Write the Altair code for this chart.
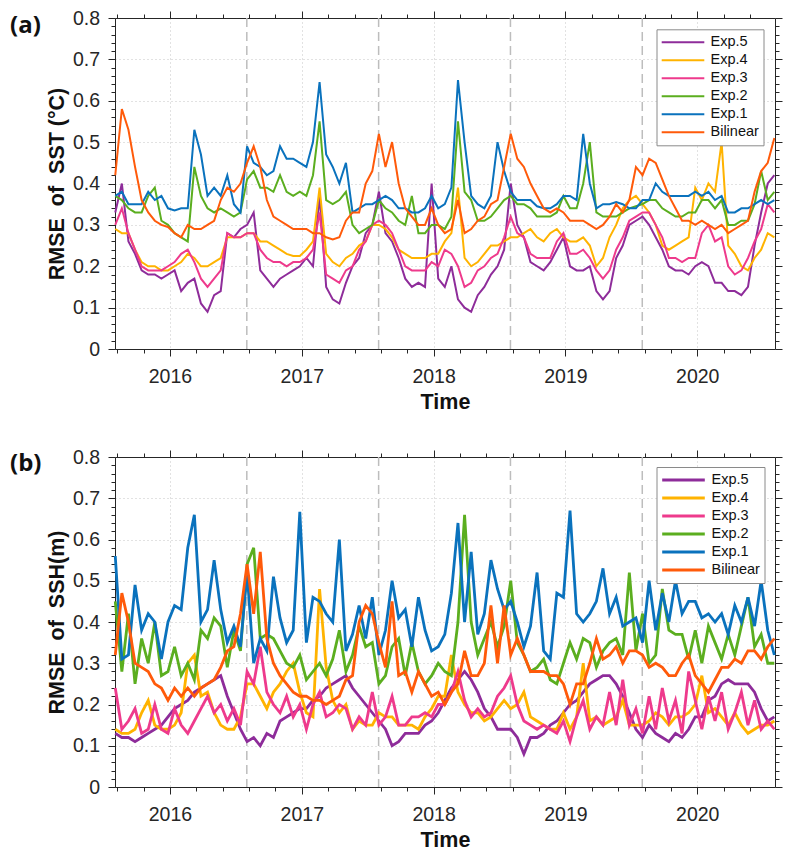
import altair as alt
import pandas as pd

# ---------------- data ----------------
N = 101
years = [round(2015.585 + 0.05 * i, 3) for i in range(N)]

series_names = ["Exp.5", "Exp.4", "Exp.3", "Exp.2", "Exp.1", "Bilinear"]
series_colors = ["#8E2C9A", "#FFB300", "#EE3A8C", "#5BAE1F", "#0A72BD", "#FF5A0A"]

# (a) RMSE of SST
sst_exp5 = [0.33, 0.40, 0.26, 0.23, 0.19, 0.18, 0.18, 0.17, 0.18, 0.19,
            0.14, 0.16, 0.17, 0.11, 0.09, 0.13, 0.14, 0.28, 0.27, 0.29,
            0.30, 0.33, 0.19, 0.17, 0.15, 0.17, 0.18, 0.19, 0.20, 0.22,
            0.20, 0.37, 0.15, 0.12, 0.11, 0.16, 0.20, 0.22, 0.28, 0.30,
            0.38, 0.28, 0.26, 0.22, 0.17, 0.15, 0.16, 0.15, 0.40, 0.17,
            0.15, 0.20, 0.12, 0.10, 0.09, 0.13, 0.15, 0.18, 0.20, 0.24,
            0.40, 0.30, 0.27, 0.21, 0.20, 0.19, 0.21, 0.24, 0.27, 0.20,
            0.19, 0.19, 0.20, 0.14, 0.12, 0.14, 0.22, 0.25, 0.30, 0.31,
            0.32, 0.30, 0.27, 0.24, 0.20, 0.19, 0.19, 0.18, 0.20, 0.21,
            0.20, 0.16, 0.16, 0.14, 0.14, 0.13, 0.15, 0.25, 0.33, 0.40, 0.42]
sst_exp4 = [0.29, 0.28, 0.28, 0.24, 0.21, 0.20, 0.20, 0.19, 0.19, 0.20,
            0.21, 0.23, 0.22, 0.20, 0.20, 0.21, 0.22, 0.27, 0.27, 0.27,
            0.28, 0.28, 0.26, 0.26, 0.25, 0.24, 0.23, 0.225, 0.225, 0.24,
            0.26, 0.39, 0.23, 0.21, 0.20, 0.22, 0.23, 0.25, 0.26, 0.30,
            0.30, 0.29, 0.27, 0.24, 0.23, 0.22, 0.22, 0.22, 0.23, 0.23,
            0.26, 0.28, 0.39, 0.22, 0.20, 0.21, 0.23, 0.25, 0.25, 0.26,
            0.27, 0.27, 0.28, 0.29, 0.27, 0.26, 0.28, 0.29, 0.27, 0.26,
            0.26, 0.27, 0.25, 0.20, 0.22, 0.27, 0.30, 0.34, 0.36, 0.37,
            0.35, 0.33, 0.30, 0.25, 0.24, 0.25, 0.26, 0.27, 0.39, 0.36,
            0.40, 0.38, 0.50, 0.25, 0.23, 0.20, 0.19, 0.22, 0.24, 0.28, 0.27]
sst_exp3 = [0.30, 0.34, 0.28, 0.24, 0.20, 0.19, 0.19, 0.19, 0.20, 0.21,
            0.23, 0.24, 0.21, 0.17, 0.15, 0.17, 0.19, 0.28, 0.27, 0.27,
            0.28, 0.28, 0.24, 0.22, 0.21, 0.21, 0.20, 0.21, 0.21, 0.22,
            0.24, 0.33, 0.18, 0.17, 0.16, 0.19, 0.20, 0.24, 0.26, 0.30,
            0.31, 0.30, 0.28, 0.24, 0.20, 0.19, 0.19, 0.19, 0.21, 0.20,
            0.24, 0.23, 0.20, 0.15, 0.16, 0.19, 0.20, 0.22, 0.23, 0.27,
            0.32, 0.28, 0.27, 0.23, 0.22, 0.22, 0.22, 0.26, 0.28, 0.23,
            0.23, 0.24, 0.22, 0.19, 0.17, 0.19, 0.24, 0.27, 0.31, 0.32,
            0.33, 0.33, 0.30, 0.27, 0.22, 0.22, 0.21, 0.22, 0.22, 0.28,
            0.30, 0.26, 0.27, 0.20, 0.18, 0.19, 0.22, 0.26, 0.29, 0.35, 0.33]
sst_exp2 = [0.37, 0.36, 0.34, 0.33, 0.33, 0.37, 0.39, 0.31, 0.30, 0.28,
            0.27, 0.26, 0.44, 0.37, 0.34, 0.33, 0.34, 0.33, 0.32, 0.33,
            0.41, 0.43, 0.39, 0.39, 0.38, 0.42, 0.38, 0.37, 0.38, 0.37,
            0.42, 0.55, 0.36, 0.35, 0.36, 0.38, 0.30, 0.28, 0.29, 0.30,
            0.36, 0.34, 0.33, 0.31, 0.30, 0.37, 0.28, 0.28, 0.30, 0.30,
            0.29, 0.32, 0.55, 0.38, 0.36, 0.31, 0.31, 0.32, 0.34, 0.36,
            0.37, 0.35, 0.35, 0.34, 0.32, 0.32, 0.32, 0.33, 0.37, 0.34,
            0.34, 0.40, 0.50, 0.33, 0.32, 0.32, 0.32, 0.33, 0.34, 0.345,
            0.35, 0.36, 0.36, 0.34, 0.33, 0.32, 0.32, 0.33, 0.33, 0.36,
            0.36, 0.34, 0.36, 0.30, 0.30, 0.31, 0.31, 0.35, 0.43, 0.36, 0.38]
sst_exp1 = [0.37, 0.38, 0.35, 0.35, 0.35, 0.38, 0.36, 0.37, 0.34, 0.335,
            0.34, 0.34, 0.53, 0.47, 0.37, 0.39, 0.37, 0.42, 0.35, 0.33,
            0.49, 0.45, 0.44, 0.42, 0.43, 0.49, 0.46, 0.46, 0.45, 0.44,
            0.50, 0.645, 0.47, 0.44, 0.40, 0.45, 0.33, 0.34, 0.35, 0.35,
            0.36, 0.37, 0.36, 0.34, 0.34, 0.33, 0.33, 0.34, 0.37, 0.34,
            0.35, 0.39, 0.65, 0.50, 0.37, 0.35, 0.34, 0.37, 0.50, 0.43,
            0.38, 0.36, 0.36, 0.36, 0.345, 0.34, 0.34, 0.35, 0.37, 0.37,
            0.36, 0.52, 0.40, 0.34, 0.35, 0.35, 0.355, 0.35, 0.34, 0.34,
            0.36, 0.36, 0.40, 0.38, 0.37, 0.37, 0.37, 0.37, 0.38, 0.37,
            0.38, 0.36, 0.37, 0.33, 0.33, 0.34, 0.34, 0.35, 0.36, 0.35, 0.36]
sst_bilinear = [0.42, 0.58, 0.53, 0.44, 0.36, 0.33, 0.31, 0.30, 0.295, 0.28,
                0.27, 0.30, 0.29, 0.29, 0.30, 0.31, 0.36, 0.39, 0.38, 0.40,
                0.45, 0.49, 0.44, 0.36, 0.32, 0.31, 0.30, 0.29, 0.29, 0.29,
                0.28, 0.28, 0.27, 0.265, 0.27, 0.31, 0.33, 0.33, 0.40, 0.43,
                0.52, 0.44, 0.50, 0.40, 0.34, 0.32, 0.30, 0.30, 0.34, 0.30,
                0.28, 0.29, 0.36, 0.28, 0.29, 0.31, 0.32, 0.35, 0.36, 0.44,
                0.52, 0.46, 0.44, 0.40, 0.37, 0.34, 0.33, 0.34, 0.33, 0.31,
                0.31, 0.31, 0.30, 0.29, 0.30, 0.32, 0.35, 0.33, 0.36, 0.44,
                0.42, 0.46, 0.45, 0.41, 0.37, 0.34, 0.31, 0.31, 0.30, 0.31,
                0.30, 0.29, 0.30, 0.28, 0.29, 0.30, 0.31, 0.38, 0.43, 0.45, 0.51]

# (b) RMSE of SSH
ssh_exp5 = [0.13, 0.12, 0.12, 0.11, 0.12, 0.13, 0.14, 0.15, 0.17, 0.19,
            0.20, 0.21, 0.23, 0.24, 0.25, 0.26, 0.27, 0.22, 0.18, 0.14,
            0.11, 0.12, 0.10, 0.13, 0.12, 0.16, 0.17, 0.18, 0.19, 0.19,
            0.21, 0.22, 0.24, 0.25, 0.26, 0.27, 0.24, 0.22, 0.20, 0.18,
            0.16, 0.14, 0.10, 0.11, 0.13, 0.13, 0.13, 0.15, 0.16, 0.18,
            0.21, 0.24, 0.26, 0.28, 0.26, 0.23, 0.19, 0.17, 0.14, 0.14,
            0.14, 0.12, 0.08, 0.12, 0.12, 0.13, 0.15, 0.16, 0.18, 0.20,
            0.21, 0.23, 0.25, 0.26, 0.27, 0.27, 0.25, 0.22, 0.18, 0.14,
            0.12, 0.15, 0.13, 0.12, 0.11, 0.13, 0.12, 0.14, 0.17, 0.17,
            0.21, 0.22, 0.25, 0.26, 0.25, 0.25, 0.25, 0.23, 0.19, 0.16, 0.17]
ssh_exp4 = [0.14, 0.13, 0.13, 0.14, 0.18, 0.21, 0.15, 0.14, 0.14, 0.15,
            0.18, 0.30, 0.32, 0.22, 0.23, 0.18, 0.15, 0.14, 0.14, 0.17,
            0.25, 0.25, 0.22, 0.19, 0.23, 0.25, 0.28, 0.30, 0.23, 0.18,
            0.17, 0.48, 0.29, 0.21, 0.18, 0.20, 0.14, 0.16, 0.15, 0.15,
            0.18, 0.17, 0.17, 0.15, 0.15, 0.15, 0.14, 0.17, 0.19, 0.22,
            0.22, 0.32, 0.23, 0.20, 0.18, 0.18, 0.16, 0.17, 0.19, 0.21,
            0.19, 0.20, 0.23, 0.17, 0.16, 0.15, 0.14, 0.14, 0.18, 0.14,
            0.17, 0.30, 0.16, 0.17, 0.15, 0.16, 0.17, 0.21, 0.15, 0.15,
            0.15, 0.16, 0.18, 0.17, 0.15, 0.17, 0.17, 0.18, 0.20, 0.27,
            0.18, 0.19, 0.17, 0.15, 0.18, 0.15, 0.13, 0.14, 0.15, 0.15, 0.16]
ssh_exp3 = [0.24, 0.14, 0.16, 0.19, 0.13, 0.14, 0.20, 0.14, 0.13, 0.19,
            0.15, 0.13, 0.16, 0.19, 0.22, 0.18, 0.20, 0.16, 0.19, 0.15,
            0.28, 0.25, 0.34, 0.23, 0.20, 0.18, 0.22, 0.17, 0.20, 0.14,
            0.20, 0.23, 0.17, 0.18, 0.20, 0.19, 0.14, 0.17, 0.15, 0.23,
            0.15, 0.17, 0.22, 0.15, 0.15, 0.17, 0.17, 0.18, 0.17, 0.20,
            0.20, 0.23, 0.28, 0.21, 0.17, 0.19, 0.17, 0.18, 0.22, 0.24,
            0.27, 0.20, 0.16, 0.15, 0.14, 0.15, 0.14, 0.13, 0.16, 0.11,
            0.17, 0.21, 0.14, 0.17, 0.15, 0.23, 0.15, 0.26, 0.15, 0.19,
            0.13, 0.22, 0.14, 0.24, 0.16, 0.21, 0.13, 0.28, 0.21, 0.14,
            0.22, 0.16, 0.23, 0.14, 0.18, 0.23, 0.15, 0.21, 0.14, 0.16, 0.14]
ssh_exp2 = [0.45, 0.28, 0.42, 0.25, 0.36, 0.30, 0.40, 0.27, 0.28, 0.34,
            0.27, 0.30, 0.26, 0.38, 0.36, 0.41, 0.39, 0.29, 0.38, 0.33,
            0.54, 0.58, 0.36, 0.37, 0.36, 0.33, 0.30, 0.29, 0.32, 0.26,
            0.28, 0.30, 0.27, 0.31, 0.38, 0.28, 0.32, 0.39, 0.34, 0.35,
            0.25, 0.27, 0.34, 0.36, 0.27, 0.35, 0.28, 0.25, 0.27, 0.30,
            0.28, 0.27, 0.40, 0.66, 0.40, 0.32, 0.36, 0.40, 0.34, 0.39,
            0.50, 0.35, 0.32, 0.28, 0.29, 0.31, 0.26, 0.25, 0.30, 0.35,
            0.31, 0.36, 0.35, 0.29, 0.33, 0.35, 0.36, 0.32, 0.52, 0.33,
            0.42, 0.30, 0.32, 0.48, 0.38, 0.37, 0.37, 0.31, 0.38, 0.30,
            0.39, 0.35, 0.31, 0.37, 0.32, 0.39, 0.46, 0.34, 0.37, 0.30, 0.30]
ssh_exp1 = [0.56, 0.31, 0.32, 0.49, 0.38, 0.42, 0.40, 0.31, 0.40, 0.44,
            0.43, 0.58, 0.66, 0.40, 0.43, 0.55, 0.43, 0.35, 0.39, 0.34,
            0.52, 0.30, 0.36, 0.33, 0.51, 0.41, 0.35, 0.38, 0.667, 0.35,
            0.46, 0.45, 0.42, 0.40, 0.60, 0.33, 0.37, 0.44, 0.36, 0.46,
            0.32, 0.38, 0.50, 0.41, 0.43, 0.34, 0.46, 0.38, 0.33, 0.34,
            0.37, 0.47, 0.64, 0.40, 0.57, 0.37, 0.42, 0.55, 0.48, 0.43,
            0.45, 0.40, 0.34, 0.39, 0.52, 0.33, 0.31, 0.47, 0.46, 0.67,
            0.42, 0.40, 0.42, 0.45, 0.53, 0.42, 0.46, 0.39, 0.40, 0.41,
            0.35, 0.50, 0.38, 0.47, 0.40, 0.50, 0.42, 0.45, 0.45, 0.41,
            0.42, 0.40, 0.42, 0.37, 0.44, 0.40, 0.46, 0.39, 0.50, 0.38, 0.32]
ssh_bilinear = [0.32, 0.47, 0.40, 0.30, 0.29, 0.28, 0.25, 0.24, 0.21, 0.24,
                0.22, 0.24, 0.22, 0.24, 0.25, 0.26, 0.29, 0.33, 0.34, 0.42,
                0.54, 0.42, 0.57, 0.36, 0.30, 0.27, 0.25, 0.23, 0.22, 0.22,
                0.21, 0.21, 0.20, 0.21, 0.22, 0.26, 0.27, 0.40, 0.44, 0.42,
                0.35, 0.29, 0.45, 0.27, 0.28, 0.23, 0.28, 0.25, 0.22, 0.23,
                0.20, 0.23, 0.25, 0.33, 0.27, 0.27, 0.30, 0.44, 0.30, 0.44,
                0.32, 0.36, 0.32, 0.28, 0.28, 0.28, 0.27, 0.27, 0.25, 0.20,
                0.25, 0.25, 0.30, 0.36, 0.31, 0.32, 0.34, 0.30, 0.33, 0.33,
                0.32, 0.29, 0.30, 0.29, 0.27, 0.27, 0.30, 0.32, 0.27, 0.25,
                0.23, 0.26, 0.29, 0.29, 0.31, 0.30, 0.33, 0.33, 0.31, 0.34, 0.36]

x_ticks = [round(2015.6 + 0.2 * k, 1) for k in range(25)]   # 2015.6 ... 2020.4
y_ticks = [round(0.02 * k, 2) for k in range(41)]           # 0 ... 0.8
dash_years = [2016.583, 2017.583, 2018.583, 2019.583]
panel_labels = ["(a)", "(b)"]
y_titles = ["RMSE\u00a0\u00a0of\u00a0\u00a0SST (°C)", "RMSE\u00a0\u00a0of\u00a0\u00a0SSH(m)"]

# ---------------- styling helpers ----------------
FONT = "Liberation Sans"
INK = "#262626"
X_MAJOR = "abs(datum.value - round(datum.value)) < 0.01"
Y_MAJOR = "abs(datum.value * 10 - round(datum.value * 10)) < 0.01"
W = 660


def cond(test, a, b):
    return {"condition": {"test": test, "value": a}, "value": b}


def long_frame(cols):
    rows = []
    for name, vals in zip(series_names, cols):
        for t, v in zip(years, vals):
            rows.append({"t": t, "v": v, "series": name})
    return pd.DataFrame(rows)


def panel(df, ytitle, label, h, line_w, legend_y, label_y):
    xs = alt.Scale(domain=[2015.583, 2020.59], nice=False, zero=False)
    ys = alt.Scale(domain=[0, 0.8], nice=False, zero=False)

    x_bottom = alt.Axis(
        orient="bottom", values=x_ticks, title="Time",
        labelExpr=f"{X_MAJOR} ? format(datum.value, 'd') : ''",
        labelOverlap=False, labelFlush=False,
        tickSize=cond(X_MAJOR, 7, 4), tickColor=INK, tickWidth=1,
        domainColor=INK, domainWidth=1,
        grid=True, gridDash=[1, 3], gridColor="#c4c4c4", gridWidth=1,
        gridOpacity=cond(X_MAJOR, 1, 0),
        labelFont=FONT, labelFontSize=19.5, labelColor=INK,
        labelBaseline="alphabetic", labelPadding=26.5,
        titleFont=FONT, titleFontSize=21.5, titleFontWeight="bold", titleColor="#111111",
        titleBaseline="alphabetic", titleY=59,
    )
    x_top = alt.Axis(
        orient="top", values=x_ticks, title=None, labels=False, grid=False,
        tickSize=cond(X_MAJOR, 7, 4), tickColor=INK, tickWidth=1,
        domainColor=INK, domainWidth=1,
    )
    y_left = alt.Axis(
        orient="left", values=y_ticks, title=ytitle,
        labelExpr=f"{Y_MAJOR} ? format(datum.value, '.1~f') : ''",
        labelOverlap=False,
        tickSize=cond(Y_MAJOR, 7, 4), tickColor=INK, tickWidth=1,
        domainColor=INK, domainWidth=1,
        grid=True, gridDash=[1, 3], gridColor="#c4c4c4", gridWidth=1,
        gridOpacity=cond(Y_MAJOR, 1, 0),
        labelFont=FONT, labelFontSize=19.5, labelColor=INK, labelPadding=8.5,
        titleFont=FONT, titleFontSize=21.5, titleFontWeight="bold", titleColor="#111111",
        titleAngle=270, titleBaseline="alphabetic", titleAlign="center",
        titleX=-51.5, titleY=h / 2,
    )
    y_right = alt.Axis(
        orient="right", values=y_ticks, title=None, labels=False, grid=False,
        tickSize=cond(Y_MAJOR, 7, 4), tickColor=INK, tickWidth=1,
        domainColor=INK, domainWidth=1,
    )

    dashed = alt.Chart(pd.DataFrame({"t": dash_years})).mark_rule(
        color="#bdbdbd", strokeDash=[9, 5], strokeWidth=1.5
    ).encode(x=alt.X("t:Q", scale=xs, axis=x_top))

    lines = alt.Chart(df).mark_line(strokeWidth=line_w).encode(
        x=alt.X("t:Q", scale=xs, axis=x_bottom),
        y=alt.Y("v:Q", scale=ys, axis=y_left),
        color=alt.Color(
            "series:N",
            scale=alt.Scale(domain=series_names, range=series_colors),
            sort=series_names,
            legend=alt.Legend(
                title=None, orient="none", legendX=541.5, legendY=legend_y,
                symbolType="stroke", symbolSize=1815, symbolStrokeWidth=line_w,
                clipHeight=18, rowPadding=0, padding=4, labelOffset=5,
                labelFont=FONT, labelFontSize=14.5, labelColor="#111111",
                labelLimit=200, fillColor="white", strokeColor="#8a8a8a",
            ),
        ),
    )

    right = alt.Chart(pd.DataFrame({"v": y_ticks})).mark_rule(opacity=0).encode(
        y=alt.Y("v:Q", scale=ys, axis=y_right)
    )

    lab = alt.Chart(pd.DataFrame({"label": [label]})).mark_text(
        font="Open Sans", fontSize=24, fontWeight="bold", align="left",
        baseline="middle", color="#111111",
    ).encode(text="label:N", x=alt.value(-105), y=alt.value(label_y))

    return alt.layer(dashed, lines, right, lab).resolve_axis(
        x="independent", y="independent"
    ).properties(width=W, height=h)


df_a = long_frame([sst_exp5, sst_exp4, sst_exp3, sst_exp2, sst_exp1, sst_bilinear])
df_b = long_frame([ssh_exp5, ssh_exp4, ssh_exp3, ssh_exp2, ssh_exp1, ssh_bilinear])

pa = panel(df_a, y_titles[0], panel_labels[0], 331, 2, 11.3, 8)
pb = panel(df_b, y_titles[1], panel_labels[1], 330, 2.8, 10, 7)

chart = alt.vconcat(pa, pb, spacing=34).resolve_scale(
    color="independent", x="independent", y="independent"
).properties(
    padding={"left": 2, "top": 0, "right": 0, "bottom": 0}
).configure_view(stroke=None)

chart.save("out.html", embed_options={"renderer": "svg", "actions": False})
